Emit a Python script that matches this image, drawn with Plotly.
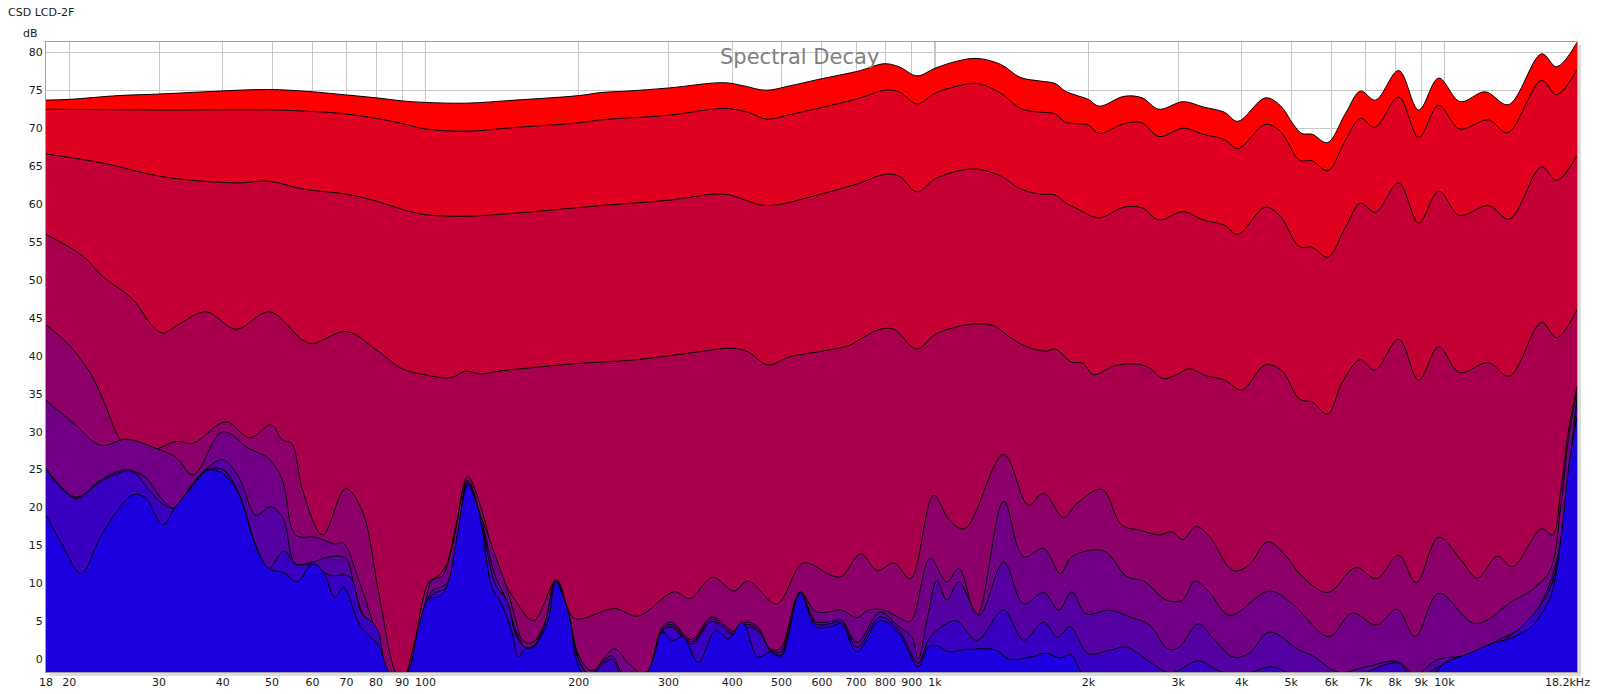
import plotly.graph_objects as go
import math

# ---------------- data (Hz, dB) : slices from back (t=0) to front ----------------
L0_f = [18, 20, 25, 30, 37, 49, 60, 67, 80, 90, 100, 120, 150, 200, 221, 250, 300, 386, 420, 466, 520, 588,
        714, 794, 850, 922, 1000, 1100, 1208, 1347, 1470, 1614, 1720, 1800, 1900, 2000, 2100, 2350, 2550, 2750,
        3070, 3360, 3700, 3930, 4450, 4760, 5050, 5250, 5500, 5890, 6400, 6840, 7320, 8130, 8900, 9740, 10730,
        12020, 13350, 15510, 16600, 18200]
L0_db = [73.7, 73.8, 74.3, 74.5, 74.8, 75.1, 74.8, 74.5, 74.0, 73.6, 73.4, 73.3, 73.7, 74.3, 74.7, 74.9, 75.3,
         76.0, 75.6, 75.0, 75.6, 76.4, 77.6, 78.5, 78.1, 76.9, 77.9, 78.8, 79.2, 78.4, 76.7, 76.2, 75.9, 74.9,
         74.3, 73.8, 72.9, 74.2, 74.0, 72.5, 73.5, 72.8, 72.1, 70.9, 74.0, 73.0, 70.5, 69.3, 69.2, 68.1, 72.0,
         74.9, 73.7, 77.6, 72.4, 76.6, 73.5, 74.8, 73.1, 79.8, 78.1, 81.3]

L1_f = [18, 30, 50, 60, 67, 80, 90, 100, 120, 150, 200, 221, 300, 386, 430, 466, 520, 588, 714, 794, 850, 922,
        1000, 1100, 1208, 1347, 1470, 1614, 1720, 1800, 1900, 2000, 2100, 2350, 2550, 2750, 3070, 3360, 3700,
        3930, 4450, 4760, 5190, 5500, 5900, 6400, 6840, 7300, 8130, 8900, 9740, 10700, 12200, 13300, 15500,
        16600, 18200]
L1_db = [72.5, 72.4, 72.4, 72.2, 72.0, 71.3, 70.6, 69.9, 69.6, 70.1, 70.7, 71.1, 71.7, 72.6, 72.1, 71.2, 71.8,
         72.6, 74.0, 75.0, 74.8, 73.2, 74.6, 75.5, 75.9, 74.6, 72.6, 72.1, 71.9, 70.8, 70.6, 70.4, 69.3, 70.6,
         70.7, 68.9, 70.0, 69.2, 68.5, 67.3, 70.5, 69.6, 65.8, 65.7, 64.4, 68.5, 71.3, 70.1, 74.1, 68.8, 73.0,
         69.9, 71.1, 69.4, 76.3, 74.4, 77.7]

L2_f = [18, 23.3, 30.5, 42.5, 49.4, 57.3, 70, 80, 90, 100, 120, 150, 221, 300, 386, 466, 588, 714, 794, 850,
        922, 1000, 1100, 1208, 1347, 1470, 1614, 1720, 1800, 1900, 2100, 2350, 2550, 2750, 3070, 3360, 3700,
        3930, 4450, 4760, 5190, 5500, 5900, 6400, 6840, 7320, 8130, 8900, 9740, 10700, 12200, 13400, 15500,
        16600, 18200]
L2_db = [66.6, 65.4, 63.6, 62.8, 63.0, 62.0, 61.3, 60.4, 59.3, 58.6, 58.4, 58.8, 59.8, 60.5, 61.3, 59.8, 61.2,
         62.8, 63.9, 63.7, 61.6, 63.3, 64.3, 64.6, 63.7, 62.0, 61.3, 61.2, 60.2, 59.4, 58.2, 59.6, 59.5, 57.9,
         59.0, 57.9, 57.2, 56.0, 59.6, 58.4, 54.4, 54.3, 53.0, 57.0, 60.1, 58.9, 62.8, 57.5, 61.7, 58.5, 59.8,
         58.0, 64.9, 63.1, 66.4]

L3_f = [18, 21.3, 23.3, 26.7, 28.8, 30.5, 32.9, 37.1, 42.5, 49.4, 57.3, 60, 70, 80, 90, 100, 112, 120, 128,
        140, 160, 200, 250, 300, 350, 400, 430, 470, 520, 600, 680, 714, 780, 830, 920, 1000, 1100, 1200, 1300,
        1400, 1500, 1650, 1720, 1850, 1950, 2050, 2250, 2500, 2650, 2800, 3000, 3150, 3400, 3700, 4000, 4450,
        4800, 5190, 5500, 5900, 6300, 6840, 7300, 8130, 8900, 9740, 10700, 12200, 13400, 15500, 16600, 18200]
L3_db = [56.0, 53.1, 50.4, 47.4, 44.3, 43.0, 44.2, 45.8, 43.5, 45.8, 42.1, 41.6, 43.2, 40.8, 38.3, 37.5, 37.1,
         38.0, 37.6, 38.0, 38.4, 39.0, 39.4, 40.0, 40.6, 41.0, 40.5, 38.8, 39.9, 40.6, 41.4, 42.2, 43.5, 43.5,
         40.9, 42.8, 43.8, 44.2, 44.0, 42.5, 41.3, 40.6, 40.9, 39.2, 39.0, 37.5, 38.7, 38.9, 38.3, 37.0, 37.6,
         38.3, 37.4, 36.8, 35.5, 38.8, 38.0, 34.3, 33.9, 32.3, 36.5, 39.5, 38.1, 42.2, 36.8, 41.2, 37.8, 39.1,
         37.3, 44.4, 42.4, 46.1]

L4_f = [18, 20.1, 22, 23.3, 25.2, 27, 29.9, 32.4, 35, 40.6, 45.2, 49.8, 52.4, 54.6, 57.3, 62.8, 69.7, 75, 81,
        87, 90, 95, 101.5, 106, 110, 115, 121, 129, 137, 150, 163, 181, 196, 235, 261, 308, 330, 366, 403, 430,
        489, 552, 624, 655, 715, 770, 832, 895, 994, 1069, 1144, 1364, 1525, 1634, 1788, 1897, 2125, 2326, 2530,
        2760, 2912, 3067, 3255, 3455, 3846, 4130, 4500, 4900, 5190, 5900, 6700, 7350, 8130, 8800, 9740, 10800,
        11600, 12700, 13600, 15500, 16300, 16900, 17500, 18200]
L4_db = [44.1, 41.2, 37.7, 34.2, 28.9, 27.0, 27.8, 28.7, 28.5, 31.3, 29.2, 30.9, 28.9, 28.5, 22.5, 16.4, 22.5,
         19.7, 8.7, -1.5, -3.0, 2.0, 10.2, 11.0, 12.5, 18.0, 24.1, 19.7, 13.0, 7.8, 5.1, 10.4, 5.4, 6.7, 5.7,
         8.9, 8.0, 10.8, 9.0, 10.3, 7.3, 12.7, 11.1, 10.9, 13.9, 11.7, 12.7, 10.6, 21.6, 18.3, 17.2, 27.0, 20.3,
         21.9, 18.7, 20.5, 22.4, 17.7, 17.0, 16.4, 16.8, 15.8, 17.5, 16.2, 11.7, 12.4, 15.5, 13.5, 11.3, 8.8,
         12.1, 10.6, 13.7, 10.1, 16.1, 13.0, 10.7, 13.6, 12.2, 17.2, 16.4, 22.0, 30.0, 35.9]

L5_f = [18, 20.5, 23.0, 25.9, 29.6, 32.4, 35, 40, 45, 49.2, 52.4, 55.6, 60.9, 66.4, 69, 74, 78.6, 84.5, 90, 96,
        100, 103, 108, 113, 121, 129, 140, 145, 150, 155, 162, 172, 180, 190, 200, 212, 235, 250, 270, 292, 304,
        333, 365, 403, 426, 449, 476, 498, 544, 583, 624, 655, 703, 741, 793, 850, 895, 978, 1055, 1113, 1208,
        1364, 1492, 1634, 1762, 1855, 2143, 2380, 2568, 2849, 3060, 3232, 3450, 3782, 4530, 5030, 5930, 6590,
        7350, 8070, 8760, 9740, 11500, 13550, 14800, 16100, 16900, 17500, 18200]
L5_db = [34.1, 31.0, 28.2, 29.0, 27.8, 26.6, 24.3, 30.0, 27.8, 26.5, 23.6, 16.4, 16.1, 15.2, 15.3, 10.4, 5.1,
         -1.5, -3.0, 2.0, 7.5, 10.4, 11.0, 15.0, 23.6, 18.5, 12.0, 9.0, 5.5, 2.5, 2.2, 5.0, 10.5, 6.5, 0.5,
         -1.5, 1.4, -0.5, -2.0, 4.3, 4.9, 2.6, 5.6, 3.7, 4.9, 4.3, 1.3, 1.5, 8.9, 6.3, 6.3, 6.5, 5.5, 6.5, 6.5,
         5.5, 5.0, 13.3, 10.2, 12.0, 5.8, 20.8, 13.5, 14.6, 11.3, 13.5, 14.3, 10.9, 10.3, 7.8, 7.8, 10.3, 8.9,
         5.8, 9.0, 7.3, 3.0, 6.1, 4.5, 6.6, 3.0, 8.7, 4.7, 7.6, 9.1, 11.7, 20.0, 29.0, 35.3]

L6_f = [18, 20.6, 23, 25.8, 28.2, 30.5, 32.2, 34.5, 37, 40, 43, 46.5, 49.6, 52.4, 55.6, 60, 64.7, 69.8, 72.5,
        75.3, 80, 84, 90, 96, 100, 103, 110, 115, 121, 129, 137, 145, 150, 157, 163, 172, 180, 190, 200, 210,
        232, 245, 280, 292, 304, 333, 365, 403, 426, 449, 476, 498, 544, 583, 624, 655, 703, 780, 850, 900, 927,
        970, 1009, 1055, 1113, 1220, 1364, 1492, 1634, 1750, 1855, 1980, 2200, 2430, 2640, 2860, 3000, 3290,
        3500, 3850, 4130, 4530, 5190, 5500, 6200, 7000, 8100, 8760, 9700, 11000, 12700, 14400, 15800, 16600,
        17200, 17700, 18200]
L6_db = [25.2, 21.4, 23.6, 25.0, 24.0, 21.0, 19.9, 22.7, 25.0, 26.3, 24.0, 19.0, 20.1, 18.8, 12.6, 12.8, 13.5,
         13.3, 9.5, 6.0, 3.0, -1.5, -3.0, 2.0, 7.0, 9.0, 10.0, 15.0, 23.3, 18.0, 11.0, 7.5, 4.0, 1.6, 1.8, 5.0,
         10.3, 6.6, 0.0, -2.0, 0.5, -2.0, -1.0, 4.0, 4.6, 2.3, 5.3, 3.4, 4.6, 4.0, 1.2, 1.0, 8.8, 5.0, 5.0, 5.2,
         2.2, 6.2, 4.3, 3.0, 0.0, 6.0, 10.4, 7.8, 10.2, 5.8, 12.8, 7.3, 8.8, 6.5, 8.9, 6.0, 6.5, 5.5, 4.5, 1.4,
         1.5, 4.7, 2.9, 0.3, 0.75, 3.6, 1.2, 0.5, -1.7, -1.0, -0.3, -2.0, 0.0, 0.5, 2.5, 4.5, 8.7, 13.0, 19.0,
         27.0, 34.6]

L7_f = [18, 20.6, 23, 25.8, 27, 28.5, 30.5, 32.2, 34.5, 37, 40, 43, 46.5, 49.2, 52.8, 55.6, 60, 64.7, 71, 75,
        78.6, 81, 84, 90, 96, 100, 103, 110, 115, 121, 129, 137, 145, 150, 157, 163, 172, 180, 190, 200, 210,
        232, 245, 280, 292, 304, 333, 365, 403, 426, 449, 476, 498, 544, 583, 624, 655, 703, 780, 850, 927, 970,
        1009, 1100, 1208, 1364, 1492, 1634, 1740, 1840, 2000, 2200, 2380, 2660, 2900, 3290, 3600, 4000, 4600,
        5200, 6500, 8100, 8800, 9700, 11000, 12500, 14000, 15800, 16600, 17200, 17700, 18200]
L7_db = [25.0, 21.2, 23.4, 24.8, 24.5, 22.5, 20.5, 19.9, 22.5, 24.9, 25.0, 21.9, 15.0, 12.0, 14.3, 12.5, 12.5,
         11.1, 10.9, 6.0, 4.9, 3.5, -1.5, -3.0, 1.5, 6.5, 8.5, 9.5, 14.5, 23.1, 17.5, 10.0, 7.5, 3.5, 1.5, 1.7,
         5.0, 10.2, 6.6, -0.1, -2.0, 0.0, -2.5, -1.5, 3.8, 4.3, 2.0, 5.0, 3.2, 4.2, 3.8, 1.1, 0.6, 8.8, 4.7,
         4.7, 5.0, 1.6, 5.6, 3.8, -0.5, 2.5, 3.8, 5.1, 2.5, 6.5, 2.5, 4.9, 2.9, 4.3, 0.75, 1.2, 1.6, -0.5, -1.8,
         -0.2, -1.5, -2.0, -1.0, -2.5, -2.5, -0.5, -3.0, -1.0, 0.0, 1.8, 4.0, 8.2, 12.2, 18.5, 26.5, 34.2]

L8_f = [18, 19.3, 21.1, 23, 25.2, 26.7, 28.2, 30.5, 32.2, 34.5, 37.4, 40, 43, 46.5, 49.2, 52.8, 56, 60, 63,
        66.4, 69, 74.6, 81, 84.5, 89, 92.7, 97, 101.5, 106, 110, 115.6, 121, 127, 135, 141, 148, 152, 157, 163,
        174, 180, 191, 198, 210, 240, 272, 292, 304, 321, 343, 371, 393, 419, 449, 476, 498, 544, 583, 624, 655,
        703, 780, 850, 927, 970, 1009, 1060, 1150, 1320, 1400, 1560, 1650, 1760, 1850, 1950, 2100, 9000, 9500,
        10000, 11200, 12300, 13500, 14800, 15500, 16200, 17000, 17500, 18200]
L8_db = [19.0, 15.3, 11.3, 16.1, 20.1, 21.7, 21.3, 17.7, 19.9, 22.4, 24.9, 24.5, 21.8, 14.8, 12.0, 11.4, 10.2,
         12.6, 11.5, 8.2, 9.5, 4.3, 1.8, -1.5, -3.0, -1.5, 4.3, 8.0, 8.2, 9.5, 16.6, 23.0, 19.7, 9.5, 7.3, 3.4,
         0.3, 1.4, 1.6, 5.1, 10.2, 6.0, -0.1, -3.0, -3.0, -1.7, 3.6, 2.5, 2.9, -0.4, 3.8, 2.7, 4.9, 0.3, 1.0,
         0.3, 8.7, 4.3, 4.3, 4.7, 1.0, 5.1, 3.4, -1.0, 1.6, 1.8, 1.0, 1.3, 1.2, 0.0, 0.4, 0.8, 0.2, 0.6, -2.0,
         -3.0, -3.0, -2.0, -0.5, 0.8, 2.0, 2.8, 4.3, 6.0, 8.5, 17.0, 25.0, 32.0]

slice_colors = ['#FF0000', '#E0001F', '#C40035', '#A9004E', '#8D0069', '#710086', '#5500A3', '#3900C1', '#1C00DF']

x_tick_vals = [18, 20, 30, 40, 50, 60, 70, 80, 90, 100, 200, 300, 400, 500, 600, 700, 800, 900,
               1000, 2000, 3000, 4000, 5000, 6000, 7000, 8000, 9000, 10000]
x_tick_text = ['18', '20', '30', '40', '50', '60', '70', '80', '90', '100', '200', '300', '400', '500', '600',
               '700', '800', '900', '1k', '2k', '3k', '4k', '5k', '6k', '7k', '8k', '9k', '10k']
y_tick_vals = list(range(0, 81, 5))

F_MIN, F_MAX = 18, 18200
DB_MIN, DB_MAX = -1.67, 81.36

# ---------------- layout geometry (pixels) ----------------
W, H = 1600, 694
PL, PR, PT, PB = 46, 1577, 42, 672


def px(x):
    return (x - PL) / (PR - PL)


def py(y):
    return (PB - y) / (PB - PT)


FONT = 'DejaVu Sans'
fig = go.Figure()

layers = [(L0_f, L0_db), (L1_f, L1_db), (L2_f, L2_db), (L3_f, L3_db), (L4_f, L4_db),
          (L5_f, L5_db), (L6_f, L6_db), (L7_f, L7_db), (L8_f, L8_db)]

for (f, db), col in zip(layers, slice_colors):
    # invisible baseline below the visible range so each slice fills down to the axis floor
    fig.add_trace(go.Scatter(x=[F_MIN, F_MAX], y=[-6, -6], mode='lines', line=dict(width=0, color=col),
                             showlegend=False, hoverinfo='skip'))
    fig.add_trace(go.Scatter(x=f, y=db, mode='lines', fill='tonexty', fillcolor=col,
                             line=dict(color='#000000', width=1, shape='spline', smoothing=1.0),
                             showlegend=False, hoverinfo='skip'))

shapes = []
# darker decade grid lines
for d in [100, 1000, 10000]:
    shapes.append(dict(type='line', xref='x', yref='paper', x0=d, x1=d, y0=0, y1=1,
                       line=dict(color='#8C8C8C', width=1), layer='below'))
# frame shadow
shapes.append(dict(type='rect', xref='paper', yref='paper', x0=px(PR), x1=px(PR + 4), y0=py(PB + 3), y1=py(PT + 3),
                   fillcolor='#DCDCDC', line=dict(width=0), layer='below'))
shapes.append(dict(type='rect', xref='paper', yref='paper', x0=px(PL + 3), x1=px(PR + 4), y0=py(PB + 4), y1=py(PB),
                   fillcolor='#DCDCDC', line=dict(width=0), layer='below'))

annotations = [
    dict(text='CSD LCD-2F', xref='paper', yref='paper', x=px(6), y=py(13), xanchor='left', yanchor='middle',
         showarrow=False, font=dict(family=FONT, size=11, color='#1A1A1A')),
    dict(text='dB', xref='paper', yref='paper', x=px(40), y=py(33), xanchor='right', yanchor='middle',
         showarrow=False, font=dict(family=FONT, size=11, color='#1A1A1A')),
    dict(text='Spectral Decay', xref='paper', yref='paper', x=px(799), y=py(57), xanchor='center',
         yanchor='middle', showarrow=False, font=dict(family=FONT, size=21, color='#808080')),
    dict(text='18.2kHz', xref='paper', yref='paper', x=px(1592), y=py(682), xanchor='right', yanchor='middle',
         showarrow=False, font=dict(family=FONT, size=11, color='#1A1A1A')),
]

fig.update_layout(
    width=W, height=H,
    margin=dict(l=PL, r=W - PR, t=PT, b=H - PB, pad=0, autoexpand=False),
    paper_bgcolor='white', plot_bgcolor='white',
    showlegend=False,
    shapes=shapes,
    annotations=annotations,
    font=dict(family=FONT, size=11, color='#1A1A1A'),
    xaxis=dict(type='log', range=[math.log10(F_MIN), math.log10(F_MAX)], tickmode='array',
               tickvals=x_tick_vals, ticktext=x_tick_text, showgrid=True, gridcolor='#C8C8C8', gridwidth=1,
               zeroline=False, showline=True, linecolor='#A0A0A0', linewidth=1, mirror=True, ticks='',
               automargin=False,
               tickfont=dict(family=FONT, size=11, color='#1A1A1A'), fixedrange=True),
    yaxis=dict(range=[DB_MIN, DB_MAX], tickmode='array', tickvals=y_tick_vals,
               ticktext=[str(v) for v in y_tick_vals], showgrid=True, gridcolor='#C8C8C8', gridwidth=1,
               zeroline=False, showline=True, linecolor='#A0A0A0', linewidth=1, mirror=True, ticks='',
               automargin=False,
               tickfont=dict(family=FONT, size=11, color='#1A1A1A'), fixedrange=True),
)

fig.write_html('out.html')
